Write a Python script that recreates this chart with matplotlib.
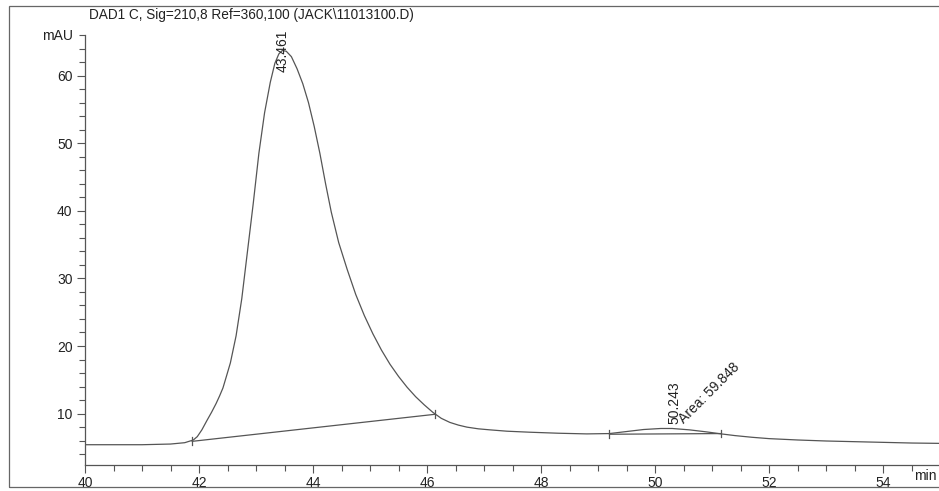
import matplotlib
matplotlib.use("Agg")
import matplotlib.pyplot as plt
from matplotlib.ticker import MultipleLocator
from matplotlib.patches import Rectangle

plt.rcParams['font.family'] = ['Liberation Sans', 'DejaVu Sans']

# Chromatogram signal (min, mAU)
time_min = [40.0, 40.5, 41.0, 41.5, 41.75, 41.9, 41.97, 42.05, 42.14, 42.22, 42.3, 42.36,
            42.42, 42.48, 42.55, 42.65, 42.75, 42.85, 42.95, 43.05, 43.15, 43.25, 43.33,
            43.40, 43.46, 43.53, 43.62, 43.72, 43.82, 43.92, 44.02, 44.12, 44.22, 44.32,
            44.45, 44.6, 44.75, 44.9, 45.05, 45.2, 45.35, 45.5, 45.65, 45.8, 45.95, 46.1,
            46.25, 46.4, 46.55, 46.7, 46.9, 47.1, 47.4, 47.8, 48.3, 48.8, 49.2, 49.5, 49.8,
            50.1, 50.3, 50.6, 50.9, 51.16, 51.4, 51.7, 52.0, 52.5, 53.0, 53.5, 54.0, 54.5,
            54.98]
signal_mau = [5.4, 5.4, 5.4, 5.5, 5.7, 6.1, 6.6, 7.6, 9.0, 10.2, 11.5, 12.6,
              13.8, 15.5, 17.5, 21.5, 27.0, 34.0, 41.0, 48.5, 54.5, 59.0, 61.8,
              63.2, 63.7, 63.6, 62.8, 61.0, 58.8, 56.0, 52.5, 48.5, 44.0, 39.8,
              35.3, 31.3, 27.6, 24.5, 21.8, 19.4, 17.3, 15.5, 13.9, 12.5, 11.3, 10.2,
              9.3, 8.7, 8.3, 8.0, 7.75, 7.6, 7.4, 7.25, 7.1, 7.0, 7.05, 7.35, 7.65,
              7.8, 7.8, 7.6, 7.3, 7.0, 6.75, 6.5, 6.3, 6.1, 5.95, 5.85, 5.75, 5.65,
              5.6]

# Integration baselines: (start time, start value, end time, end value)
baseline_1 = [41.88, 5.9, 46.14, 9.9]
baseline_2 = [49.2, 6.95, 51.16, 7.05]

# Peak annotations
peak_rt = [43.461, 50.243]
peak_label_y = [60.5, 8.4]
peak_labels = ["43.461", "50.243"]
area_label = "Area: 59.848"
area_pos = [50.55, 8.1]

title = "DAD1 C, Sig=210,8 Ref=360,100 (JACK\\11013100.D)"

fig = plt.figure(figsize=(9.39, 4.91), dpi=100)
fig.patch.set_facecolor('white')

# outer frame
fig.patches.append(Rectangle((9/939, 1-487/491), 1.2, (487-6)/491,
                             transform=fig.transFigure, fill=False,
                             edgecolor='#666666', linewidth=0.9))

ax = fig.add_axes([85/939, 1-465/491, 1-85/939, (465-35)/491])
ax.set_xlim(40, 54.98)
ax.set_ylim(2.4, 66)

line_col = '#555555'
ax.plot(time_min, signal_mau, color=line_col, linewidth=0.9)

for b in (baseline_1, baseline_2):
    ax.plot([b[0], b[2]], [b[1], b[3]], color=line_col, linewidth=0.9)
    ax.plot([b[0], b[0]], [b[1] - 0.5, b[1] + 0.6], color=line_col, linewidth=0.9)
    ax.plot([b[2], b[2]], [b[3] - 0.5, b[3] + 0.6], color=line_col, linewidth=0.9)

offsets = [(0, 0), (4, 0)]
for rt, ly, lab, off in zip(peak_rt, peak_label_y, peak_labels, offsets):
    ax.annotate(lab, xy=(rt, ly), xytext=off, textcoords='offset points',
                rotation=90, ha='center', va='bottom', fontsize=10, color='#222222')

ax.text(area_pos[0], area_pos[1], area_label, rotation=45, rotation_mode='anchor',
        ha='left', va='bottom', fontsize=10, color='#222222')

ax.spines['top'].set_visible(False)
ax.spines['right'].set_visible(False)
for s in ('left', 'bottom'):
    ax.spines[s].set_color('#555555')
    ax.spines[s].set_linewidth(0.9)

ax.xaxis.set_major_locator(MultipleLocator(2))
ax.xaxis.set_minor_locator(MultipleLocator(0.5))
ax.yaxis.set_major_locator(MultipleLocator(10))
ax.yaxis.set_minor_locator(MultipleLocator(2))
ax.tick_params(axis='both', which='major', length=6, width=0.8, color='#555555',
               labelsize=10, labelcolor='#222222', direction='out')
ax.tick_params(axis='both', which='minor', length=4, width=0.8, color='#555555', direction='out')
ax.tick_params(axis='x', which='major', pad=2)
ax.tick_params(axis='y', which='major', pad=3)
ax.set_facecolor('white')

fig.text(42/939, 1-36/491, "mAU", fontsize=10, ha='left', va='center', color='#222222')
fig.text(914/939, 1-476/491, "min", fontsize=10, ha='left', va='center', color='#222222')
fig.text(89/939, 1-15/491, title, fontsize=9.8, ha='left', va='center', color='#222222')

fig.savefig("out.png", dpi=100, facecolor='white')
